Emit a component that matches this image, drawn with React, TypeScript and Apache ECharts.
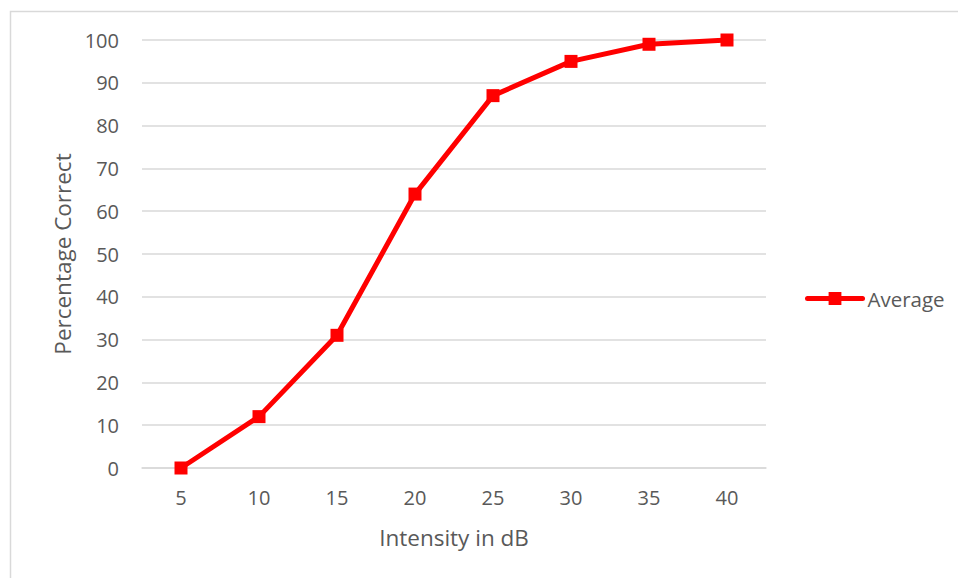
import React, { useEffect, useRef } from "react";
import * as echarts from "echarts";

const intensities = ["5", "10", "15", "20", "25", "30", "35", "40"];
const averageCorrect = [0, 12, 31, 64, 87, 95, 99, 100];
const seriesName = "Average";

const FONT = "'Open Sans', 'Noto Sans', sans-serif";
const TEXT = "#595959";
const GRID = "#d9d9d9";
const RED = "#ff0000";

export default function App() {
  const ref = useRef<HTMLDivElement>(null);

  useEffect(() => {
    document.body.style.margin = "0";
    const chart = echarts.init(ref.current!, null, { renderer: "svg" });
    chart.setOption({
      animation: false,
      backgroundColor: "#ffffff",
      textStyle: { fontFamily: FONT },
      graphic: [
        {
          type: "rect",
          shape: { x: 10.5, y: 11.5, width: 1000, height: 1000 },
          style: { fill: "none", stroke: GRID, lineWidth: 1.5 },
          silent: true,
          z: -1,
        },
      ],
      grid: { left: 142, right: 192, top: 40, bottom: 110 },
      legend: {
        data: [seriesName],
        orient: "vertical",
        left: 805,
        top: 288,
        padding: 0,
        itemWidth: 55,
        itemHeight: 16,
        itemGap: 4,
        lineStyle: { width: 5, color: RED },
        textStyle: { color: TEXT, fontSize: 20.5, fontFamily: FONT },
      },
      xAxis: {
        type: "category",
        data: intensities,
        boundaryGap: true,
        name: "Intensity in dB",
        nameLocation: "middle",
        nameGap: 58,
        nameTextStyle: { color: TEXT, fontSize: 22.5, fontFamily: FONT },
        axisLine: { show: true, lineStyle: { color: GRID, width: 1.5 } },
        axisTick: { show: false },
        axisLabel: { color: TEXT, fontSize: 20, fontFamily: FONT, margin: 19 },
        splitLine: { show: false },
      },
      yAxis: {
        type: "value",
        min: 0,
        max: 100,
        interval: 10,
        name: "Percentage Correct",
        nameLocation: "middle",
        nameGap: 68,
        nameTextStyle: { color: TEXT, fontSize: 22.5, fontFamily: FONT },
        axisLine: { show: false },
        axisTick: { show: false },
        axisLabel: { color: TEXT, fontSize: 20, fontFamily: FONT, margin: 23 },
        splitLine: { show: true, lineStyle: { color: GRID, width: 1.5 } },
      },
      series: [
        {
          name: seriesName,
          type: "line",
          data: averageCorrect,
          symbol: "rect",
          symbolSize: 13,
          itemStyle: { color: RED },
          lineStyle: { color: RED, width: 5, cap: "round", join: "round" },
        },
      ],
    });
    return () => chart.dispose();
  }, []);

  return <div ref={ref} style={{ width: 958, height: 578 }} />;
}
